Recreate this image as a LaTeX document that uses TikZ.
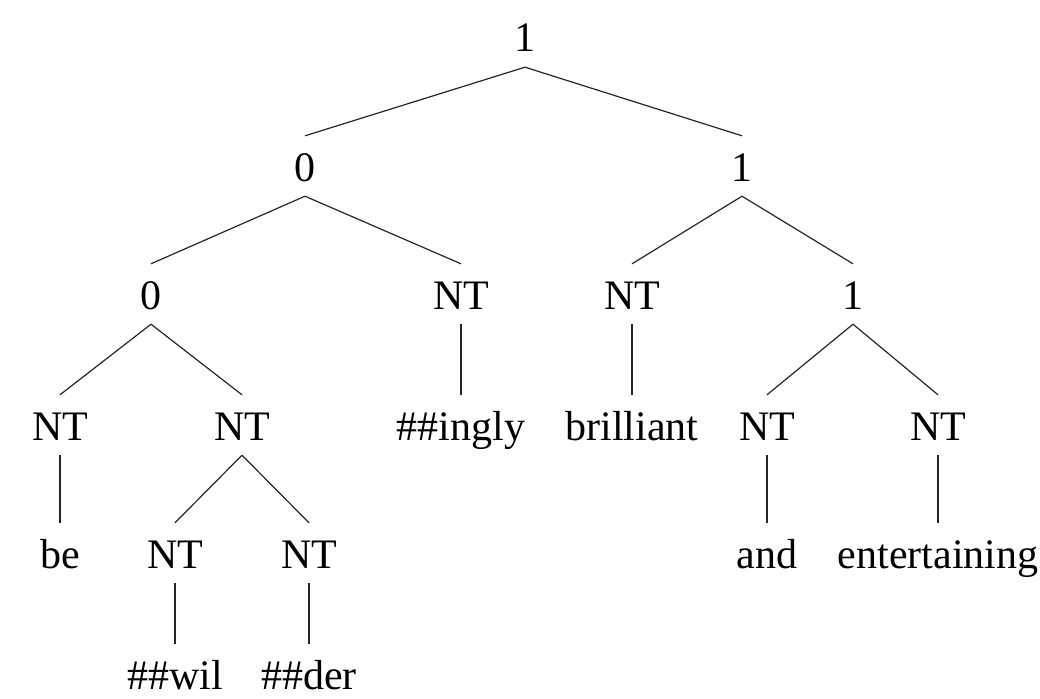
\documentclass[tikz,border=0pt]{standalone}
\usepackage{fontspec}
\setmainfont{Liberation Serif}
\begin{document}
\begin{tikzpicture}[x=1pt,y=-1pt,
  lbl/.style={anchor=base,font=\fontsize{42}{48}\selectfont,
    text height=30pt,text depth=0pt,inner xsep=0pt,inner ysep=15pt},
  edge/.style={line width=1.2pt,draw=black!85}]
\useasboundingbox (0,0) rectangle (1040,698);
% level baselines
\def\la{52}\def\lb{181}\def\lc{309}\def\ld{440}\def\le{568}\def\lf{689}
% nodes
\node[lbl] (r)    at (525,\la) {1};
\node[lbl] (a)    at (305,\lb) {0};
\node[lbl] (b)    at (742,\lb) {1};
\node[lbl] (aa)   at (151,\lc) {0};
\node[lbl] (ab)   at (461,\lc) {NT};
\node[lbl] (ba)   at (632,\lc) {NT};
\node[lbl] (bb)   at (853,\lc) {1};
\node[lbl] (aaa)  at (60,\ld)  {NT};
\node[lbl] (aab)  at (242,\ld) {NT};
\node[lbl] (abw)  at (461,\ld) {\#\#ingly};
\node[lbl] (baw)  at (632,\ld) {brilliant};
\node[lbl] (bba)  at (767,\ld) {NT};
\node[lbl] (bbb)  at (938,\ld) {NT};
\node[lbl] (aaaw) at (60,\le)  {be};
\node[lbl] (aaba) at (175,\le) {NT};
\node[lbl] (aabb) at (309,\le) {NT};
\node[lbl] (bbaw) at (767,\le) {and};
\node[lbl] (bbbw) at (938,\le) {entertaining};
\node[lbl] (aabaw) at (175,\lf) {\#\#wil};
\node[lbl] (aabbw) at (309,\lf) {\#\#der};
% edges
\foreach \p/\c in {r/a,r/b,a/aa,a/ab,b/ba,b/bb,aa/aaa,aa/aab,ab/abw,ba/baw,
  bb/bba,bb/bbb,aaa/aaaw,aab/aaba,aab/aabb,bba/bbaw,bbb/bbbw,aaba/aabaw,aabb/aabbw}
  \draw[edge] (\p.south) -- (\c.north);
\end{tikzpicture}
\end{document}
